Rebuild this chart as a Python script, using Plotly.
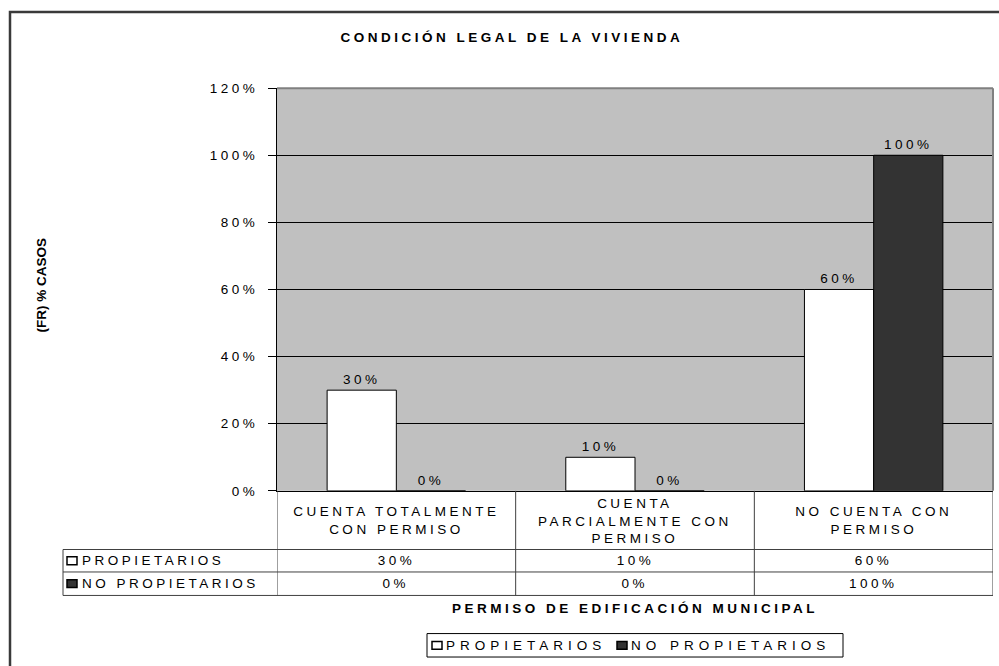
import plotly.graph_objects as go

# datos
categorias = ["CUENTA TOTALMENTE CON PERMISO", "CUENTA PARCIALMENTE CON PERMISO", "NO CUENTA CON PERMISO"]
etiquetas_tabla = ["CUENTA TOTALMENTE<br>CON PERMISO", "CUENTA<br>PARCIALMENTE CON<br>PERMISO", "NO CUENTA CON<br>PERMISO"]
series = ["PROPIETARIOS", "NO PROPIETARIOS"]
propietarios = [0.30, 0.10, 0.60]
no_propietarios = [0.00, 0.00, 1.00]
colores = ["#FFFFFF", "#333333"]
ticks_y = [0, 0.2, 0.4, 0.6, 0.8, 1.0, 1.2]

W, H = 999, 666
FONT = "Arial, Liberation Sans, sans-serif"
FS = 13.5


def fx(px):
    return px / W


def fy(py):
    return 1 - py / H


fig = go.Figure()
for nombre, valores, color in zip(series, [propietarios, no_propietarios], colores):
    fig.add_trace(go.Bar(
        x=categorias, y=valores, name=nombre,
        marker=dict(color=color, line=dict(color="black", width=1)),
        texttemplate="%{y:.0%}", textposition="outside",
        textfont=dict(size=FS, color="black", family=FONT),
        cliponaxis=False,
    ))

shapes = []
# marco exterior
shapes.append(dict(type="rect", xref="paper", yref="paper", x0=fx(10), x1=1.05, y0=-0.05, y1=fy(5),
                   line=dict(color="#3a3a3a", width=2.5)))
# borde superior y derecho del area de grafico
shapes.append(dict(type="line", xref="paper", yref="paper", x0=fx(277), x1=fx(993), y0=fy(83), y1=fy(83),
                   line=dict(color="#808080", width=2)))
shapes.append(dict(type="line", xref="paper", yref="paper", x0=fx(993), x1=fx(993), y0=fy(83), y1=fy(495),
                   line=dict(color="#808080", width=2)))

# tabla de datos
filas_y = [555, 578, 602]
for yy in filas_y:
    shapes.append(dict(type="line", xref="paper", yref="paper", x0=fx(63), x1=fx(993), y0=fy(yy), y1=fy(yy),
                       line=dict(color="#404040", width=1)))
for xc in [-0.5, 0.5, 1.5, 2.5]:
    shapes.append(dict(type="line", xref="x", yref="paper", x0=xc, x1=xc, y0=fy(495), y1=fy(602),
                       line=dict(color="#404040", width=1)))
shapes.append(dict(type="line", xref="paper", yref="paper", x0=fx(63), x1=fx(63), y0=fy(555), y1=fy(602),
                   line=dict(color="#404040", width=1)))

annotations = []
txt = dict(size=FS, color="black", family=FONT)


def nota(text, x, y, xref="paper", xanchor="center", **kw):
    annotations.append(dict(text=text, xref=xref, yref="paper", x=x, y=y, xanchor=xanchor,
                            yanchor="middle", showarrow=False, font=txt, **kw))
    return len(annotations) - 1


# titulo
nota("<b>CONDICIÓN LEGAL DE LA VIVIENDA</b>", fx(512), fy(31))
# titulo eje y
i_ytitulo = nota("<b>(FR) % CASOS</b>", fx(42), fy(285), textangle=-90)
# titulo eje x
nota("<b>PERMISO DE EDIFICACIÓN MUNICIPAL</b>", fx(635), fy(615))
# encabezados de la tabla
for i, et in enumerate(etiquetas_tabla):
    nota(et, i, fy(525.5), xref="x", align="center")
# filas de la tabla
centros = [566.5, 590]
for nombre, valores, color, yc in zip(series, [propietarios, no_propietarios], colores, centros):
    shapes.append(dict(type="rect", xref="paper", yref="paper", x0=fx(67), x1=fx(77),
                       y0=fy(yc + 4), y1=fy(yc - 4), fillcolor=color, line=dict(color="black", width=1.5)))
    nota(nombre, fx(80), fy(yc), xanchor="left", align="left")
    for i, v in enumerate(valores):
        nota(f"{v:.0%}", i, fy(yc), xref="x")

# leyenda
shapes.append(dict(type="rect", xref="paper", yref="paper", x0=fx(427), x1=fx(843), y0=fy(665), y1=fy(641),
                   line=dict(color="black", width=1)))
i_leyenda = []
for nombre, color, x0 in zip(series, colores, [432, 617]):
    shapes.append(dict(type="rect", xref="paper", yref="paper", x0=fx(x0), x1=fx(x0 + 10),
                       y0=fy(657), y1=fy(649), fillcolor=color, line=dict(color="black", width=1.5)))
    i_leyenda.append(nota(nombre, fx(x0 + 12), fy(653), xanchor="left", align="left"))

fig.update_layout(
    width=W, height=H, autosize=False,
    margin=dict(l=0, r=0, t=0, b=0),
    paper_bgcolor="white", plot_bgcolor="#C0C0C0",
    showlegend=False,
    barmode="group", bargap=0.42, bargroupgap=0,
    font=dict(family=FONT, size=FS, color="black"),
    shapes=shapes, annotations=annotations,
)
fig.update_xaxes(domain=[fx(277), fx(993)], range=[-0.5, 2.5], showticklabels=False, ticks="",
                 showline=True, linecolor="black", linewidth=1, showgrid=False, zeroline=False)
fig.update_yaxes(domain=[fy(495), fy(83)], range=[0, 1.2], tickvals=ticks_y, tickformat=".0%",
                 ticks="outside", ticklen=8, tickcolor="black", ticklabelstandoff=7,
                 showline=True, linecolor="black", linewidth=1,
                 showgrid=True, gridcolor="black", gridwidth=1, zeroline=False,
                 tickfont=dict(size=FS, color="black", family=FONT))

# espaciado de letras como en el original
js = """
document.body.style.margin = '0';
var gd = document.getElementById('{plot_id}');
gd.querySelectorAll('text').forEach(function(t) {
    t.style.letterSpacing = t.querySelector('b') ? '4.5px' : '3.5px';
});
gd.querySelectorAll('g.annotation').forEach(function(g) {
    var i = parseInt(g.getAttribute('data-index'));
    var t = g.querySelector('text');
    if (i === %d) { t.style.letterSpacing = '0px'; }
    if (%s.indexOf(i) >= 0) { t.style.letterSpacing = '5px'; }
});
""" % (i_ytitulo, str(i_leyenda))
fig.write_html("out.html", post_script=js, config={"displayModeBar": False})
